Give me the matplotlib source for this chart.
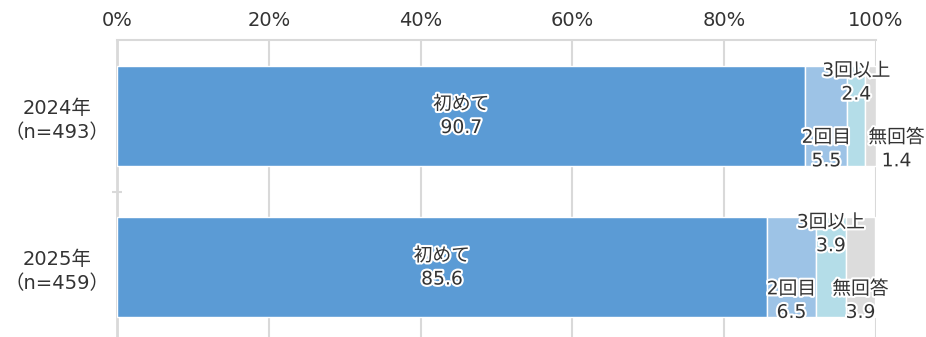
import numpy as np
import matplotlib.pyplot as plt
import matplotlib.patheffects as pe

plt.rcParams['font.family'] = ['DejaVu Sans', 'Noto Sans CJK JP']

years = ['2024年\n（n=493）', '2025年\n（n=459）']
categories = ['初めて', '2回目', '3回以上', '無回答']
values = {
    '初めて': [90.7, 85.6],
    '2回目': [5.5, 6.5],
    '3回以上': [2.4, 3.9],
    '無回答': [1.4, 3.9],
}
colors = ['#5b9bd5', '#9dc3e6', '#b4dde8', '#dcdcdc']
# label placement: 0 = centre, -1 = upper half, +1 = lower half
label_pos = {'初めて': 0, '2回目': 1, '3回以上': -1, '無回答': 1}

fig = plt.figure(figsize=(9.26, 3.37), dpi=100)
ax = fig.add_axes([117 / 926, 0, (876 - 117) / 926, 297 / 337])

y = np.arange(len(years))
bar_h = 0.66
left = np.zeros(len(years))
stroke = [pe.withStroke(linewidth=3, foreground='white')]

for cat, col in zip(categories, colors):
    vals = np.array(values[cat])
    ax.barh(y, vals, left=left, height=bar_h, color=col, edgecolor='white',
            linewidth=1, zorder=3)
    for i, v in enumerate(vals):
        cx = left[i] + v / 2
        if cat == '無回答' and v < 2:
            cx = 102.7
        cy = y[i] + label_pos[cat] * 0.22
        ax.text(cx, cy, f'{cat}\n{v:.1f}', ha='center', va='center',
                fontsize=13.5, color='#333333', linespacing=1.3,
                path_effects=stroke, zorder=5, clip_on=False)
    left += vals

ax.set_xlim(0, 100)
ax.set_ylim(1.46, -0.5)
ax.xaxis.tick_top()
ax.set_xticks(np.arange(0, 101, 20))
ax.set_xticklabels([f'{t}%' for t in range(0, 101, 20)])
ax.tick_params(axis='x', length=0, pad=7, labelsize=14, labelcolor='#333333')
ax.grid(axis='x', color='#d9d9d9', linewidth=1.5, zorder=0)

ax.set_yticks(y)
ax.set_yticklabels(years, ha='center', fontsize=14, color='#333333',
                   linespacing=1.35)
ax.tick_params(axis='y', which='major', length=0, pad=43)
ax.set_yticks([0.5], minor=True)
ax.tick_params(axis='y', which='minor', direction='inout', length=7,
               width=1.5, color='#d9d9d9')

for s in ['right', 'bottom']:
    ax.spines[s].set_visible(False)
ax.spines['left'].set_color('#d9d9d9')
ax.spines['left'].set_linewidth(2)
ax.spines['top'].set_color('#d9d9d9')
ax.spines['top'].set_linewidth(1.5)

fig.savefig('out.png', dpi=100)
